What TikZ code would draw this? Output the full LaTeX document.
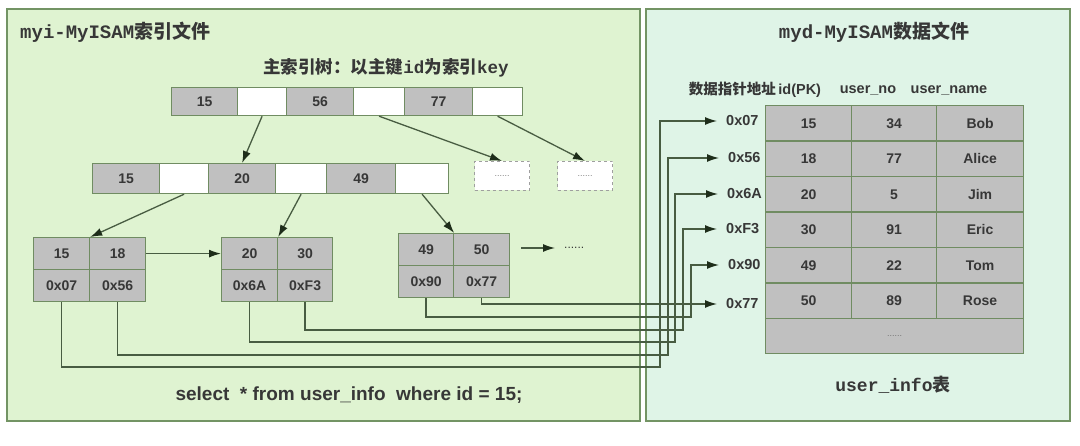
\documentclass[tikz,border=0pt]{standalone}
\usepackage{fontspec}
\setmainfont{Liberation Sans}
\newfontfamily\cjk{Noto Sans CJK SC}
\newfontfamily\mono{Liberation Mono}
\usetikzlibrary{arrows.meta,calc}
\definecolor{lpanel}{RGB}{223,243,209}
\definecolor{rpanel}{RGB}{223,244,231}
\definecolor{pborder}{RGB}{115,148,100}
\definecolor{cellg}{RGB}{192,192,192}
\definecolor{cellb}{RGB}{112,140,98}
\definecolor{txt}{RGB}{55,55,55}
\definecolor{wirec}{RGB}{72,92,66}
\definecolor{tipc}{RGB}{30,45,26}
\tikzset{
  box/.style={draw=cellb, line width=1.2pt, inner sep=0pt, anchor=north west,
    font=\fontsize{14}{16}\selectfont\bfseries, text=txt},
  gcell/.style={box, fill=cellg},
  wcell/.style={box, fill=white},
  dbox/.style={draw=gray!75, dashed, line width=1pt, fill=white, inner sep=0pt,
    anchor=north west, minimum width=55pt, minimum height=29pt,
    font=\fontsize{9}{10}\selectfont, text=gray},
  arr/.style={draw=wirec, line width=1.3pt, -{Latex[length=12pt,width=8pt,color=tipc]}},
  lbl/.style={inner sep=0pt, text=txt, font=\fontsize{14.5}{16}\selectfont\bfseries},
  ttl/.style={inner sep=0pt, text=txt, font=\fontsize{19}{22}\selectfont\bfseries},
}
\begin{document}
\begin{tikzpicture}[x=1pt,y=-1pt]
\useasboundingbox (0,0) rectangle (1080,446);
\fill[white] (0,0) rectangle (1080,446);
% panels
\draw[draw=pborder, fill=lpanel, line width=1.6pt] (7,9) rectangle (640,421);
\draw[draw=pborder, fill=rpanel, line width=1.6pt] (646,9) rectangle (1070,421);

% titles
\node[ttl, anchor=west] (t1) at (20,32) {{\mono myi-MyISAM}{\cjk 索引文件}};
\node[ttl] (t2) at (874,32) {{\mono myd-MyISAM}{\cjk 数据文件}};
\node[ttl, font=\fontsize{17.5}{20}\selectfont\bfseries] (sub) at (386,68)
  {{\cjk 主索引树：以主键}{\mono id}{\cjk 为索引}{\mono key}};

% root node
\node[gcell, minimum width=66pt, minimum height=28pt] (r15) at (171,87) {15};
\node[wcell, minimum width=49pt, minimum height=28pt] (rw1) at (237,87) {};
\node[gcell, minimum width=67pt, minimum height=28pt] (r56) at (286,87) {56};
\node[wcell, minimum width=51pt, minimum height=28pt] (rw2) at (353,87) {};
\node[gcell, minimum width=68pt, minimum height=28pt] (r77) at (404,87) {77};
\node[wcell, minimum width=50pt, minimum height=28pt] (rw3) at (472,87) {};

% level 2
\node[gcell, minimum width=67pt, minimum height=30pt] (m15) at (92,163) {15};
\node[wcell, minimum width=49pt, minimum height=30pt] (mw1) at (159,163) {};
\node[gcell, minimum width=67pt, minimum height=30pt] (m20) at (208,163) {20};
\node[wcell, minimum width=51pt, minimum height=30pt] (mw2) at (275,163) {};
\node[gcell, minimum width=69pt, minimum height=30pt] (m49) at (326,163) {49};
\node[wcell, minimum width=53pt, minimum height=30pt] (mw3) at (395,163) {};
\node[dbox] (d1) at (474,161) {......};
\node[dbox] (d2) at (557,161) {......};

% leaves
\node[gcell, minimum width=56pt, minimum height=32pt] (k15) at (33,237) {15};
\node[gcell, minimum width=56pt, minimum height=32pt] (k18) at (89,237) {18};
\node[gcell, minimum width=56pt, minimum height=32pt] (p07) at (33,269) {0x07};
\node[gcell, minimum width=56pt, minimum height=32pt] (p56) at (89,269) {0x56};

\node[gcell, minimum width=56pt, minimum height=32pt] (k20) at (221,237) {20};
\node[gcell, minimum width=55pt, minimum height=32pt] (k30) at (277,237) {30};
\node[gcell, minimum width=56pt, minimum height=32pt] (p6A) at (221,269) {0x6A};
\node[gcell, minimum width=55pt, minimum height=32pt] (pF3) at (277,269) {0xF3};

\node[gcell, minimum width=55pt, minimum height=32pt] (k49) at (398,233) {49};
\node[gcell, minimum width=56pt, minimum height=32pt] (k50) at (453,233) {50};
\node[gcell, minimum width=55pt, minimum height=32pt] (p90) at (398,265) {0x90};
\node[gcell, minimum width=56pt, minimum height=32pt] (p77) at (453,265) {0x77};

\node[inner sep=0pt, anchor=west, text=txt, font=\fontsize{12}{12}\selectfont] (more) at (564,248) {......};

% tree arrows
\draw[arr] (rw1.south) -- (m20.north);
\draw[arr] (rw2.south) -- (d1.north);
\draw[arr] (rw3.south) -- (d2.north);
\draw[arr] (mw1.south) -- (k15.north east);
\draw[arr] (mw2.south) -- (k20.north east);
\draw[arr] (mw3.south) -- (k49.north east);
\draw[arr] (k18.east) -- (k20.west);
\draw[arr, shorten <=11pt, shorten >=9pt] (k50.east |- more.west) -- (more.west);

% query text
\node[inner sep=0pt, text=txt, font=\fontsize{19}{22}\selectfont\bfseries] (q) at (349,395)
  {select\ \ * from user\_info\ \ where id = 15;};

% data table header
\node[lbl] (h1) at (755,90) {{\cjk 数据指针地址}\,id(PK)};
\node[lbl] (h2) at (868,90) {user\_no};
\node[lbl] (h3) at (949,90) {user\_name};

% table
\foreach \r/\y/\a/\b/\c in {1/105/15/34/Bob, 2/140.5/18/77/Alice, 3/176/20/5/Jim,
    4/211.5/30/91/Eric, 5/247/49/22/Tom, 6/282.5/50/89/Rose}{
  \node[gcell, minimum width=86pt, minimum height=35.5pt] (ta\r) at (765,\y) {\a};
  \node[gcell, minimum width=85pt, minimum height=35.5pt] (tb\r) at (851,\y) {\b};
  \node[gcell, minimum width=87pt, minimum height=35.5pt] (tc\r) at (936,\y) {\c};
}
\node[gcell, minimum width=258pt, minimum height=35pt, font=\fontsize{9}{10}\selectfont, text=txt!70] (tmore) at (765,318) {......};
\node[ttl, font=\fontsize{18}{20}\selectfont\bfseries] (tname) at (893,385) {{\mono user\_info}{\cjk 表}};

% address labels
\node[lbl, anchor=west] (a07) at (726,121) {0x07};
\node[lbl, anchor=west] (a56) at (728,158) {0x56};
\node[lbl, anchor=west] (a6A) at (727,194) {0x6A};
\node[lbl, anchor=west] (aF3) at (726,229) {0xF3};
\node[lbl, anchor=west] (a90) at (728,265) {0x90};
\node[lbl, anchor=west] (a77) at (726,304) {0x77};

% pointer wires
\coordinate (c07) at (660,367);
\coordinate (c56) at (668,355);
\coordinate (c6A) at (675,342);
\coordinate (cF3) at (683,330);
\coordinate (c90) at (691,317);
\draw[arr, shorten >=9pt] (p07.south) |- (c07) |- (a07.west);
\draw[arr, shorten >=9pt] (p56.south) |- (c56) |- (a56.west);
\draw[arr, shorten >=9pt] (p6A.south) |- (c6A) |- (a6A.west);
\draw[arr, shorten >=9pt] (pF3.south) |- (cF3) |- (aF3.west);
\draw[arr, shorten >=9pt] (p90.south) |- (c90) |- (a90.west);
\draw[arr, shorten >=9pt] (p77.south) |- (a77.west);
\end{tikzpicture}
\end{document}
